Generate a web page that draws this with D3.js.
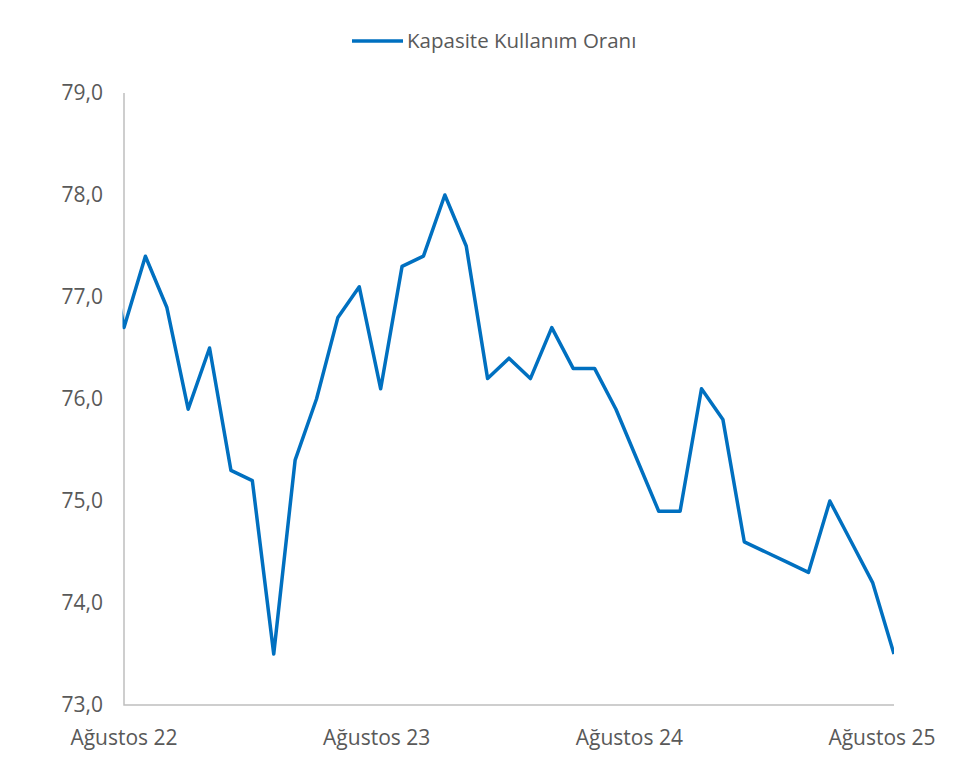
<!DOCTYPE html>
<html>
<head>
<meta charset="utf-8">
<script src="https://cdn.jsdelivr.net/npm/d3@7"></script>
<style>
	body { margin: 0; background: #fff; }
	text { font-family: "Open Sans", "Noto Sans", sans-serif; fill: #595959; }
</style>
</head>
<body>
<svg id="svg"></svg>
<script>
// months on the axis (index 0 = Ağustos 22); a Temmuz 22 point sits left of the axis and is clipped
const months = d3.range(-1, 37)
const values = [77.8,
	76.7, 77.4, 76.9, 75.9, 76.5, 75.3, 75.2, 73.5, 75.4, 76.0, 76.8, 77.1,
	76.1, 77.3, 77.4, 78.0, 77.5, 76.2, 76.4, 76.2, 76.7, 76.3, 76.3, 75.9,
	75.4, 74.9, 74.9, 76.1, 75.8, 74.6, 74.5, 74.4, 74.3, 75.0, 74.6, 74.2,
	73.5]
const tickMonths = [0, 12, 24, 36]
const tickLabels = ['Ağustos 22', 'Ağustos 23', 'Ağustos 24', 'Ağustos 25']
const yTicks = [73, 74, 75, 76, 77, 78, 79]
const seriesName = 'Kapasite Kullanım Oranı'

const W = 954, H = 766
const margin = {top: 93, right: 60, bottom: 61, left: 124},
	width = 894 - margin.left,
	height = H - margin.top - margin.bottom;

const tr = d3.formatLocale({decimal: ',', thousands: '.', grouping: [3], currency: ['', '₺']})
const fmt = tr.format('.1f')

const x = d3.scaleLinear().domain([0, 36]).range([0, width])
// Excel spreads the date labels a bit tighter than the points
const xLab = d3.scaleLinear().domain([0, 36]).range([0, width - 12])
const y = d3.scaleLinear().domain([73, 79]).range([height, 0])

const svg = d3.select('#svg')
	.attr('width', W)
	.attr('height', H)

const g = svg.append('g')
	.attr('transform', `translate(${margin.left},${margin.top})`)

g.append('clipPath').attr('id', 'clip')
	.append('rect')
	.attr('x', -1.5).attr('y', -10)
	.attr('width', width + 1.5).attr('height', height + 20)

// y axis labels
g.append('g')
	.selectAll('text')
	.data(yTicks).enter()
	.append('text')
	.attr('x', -21)
	.attr('y', d => y(d))
	.attr('dy', '0.35em')
	.attr('text-anchor', 'end')
	.style('font-size', '21px')
	.text(d => fmt(d))

// x axis labels
g.append('g')
	.selectAll('text')
	.data(tickMonths).enter()
	.append('text')
	.attr('x', d => xLab(d))
	.attr('y', height + 40)
	.attr('text-anchor', 'middle')
	.style('font-size', '21px')
	.text((d, i) => tickLabels[i])

// axis lines
g.append('path')
	.attr('d', `M0,${y(79)}V${height}H${width}`)
	.attr('fill', 'none')
	.attr('stroke', '#bfbfbf')
	.attr('stroke-width', 1.5)

const line = d3.line()
	.x((d, i) => x(months[i]))
	.y(d => y(d))

g.append('path')
	.datum(values)
	.attr('clip-path', 'url(#clip)')
	.attr('d', line)
	.attr('fill', 'none')
	.attr('stroke', '#0070c0')
	.attr('stroke-width', 3.5)
	.attr('stroke-linejoin', 'round')

// legend
const leg = svg.append('g').attr('transform', 'translate(352,41)')
leg.append('line')
	.attr('x1', 0).attr('x2', 51)
	.attr('stroke', '#0070c0')
	.attr('stroke-width', 3.5)
leg.append('text')
	.attr('x', 55)
	.attr('dy', '0.35em')
	.style('font-size', '20.5px')
	.text(seriesName)
</script>
</body>
</html>
